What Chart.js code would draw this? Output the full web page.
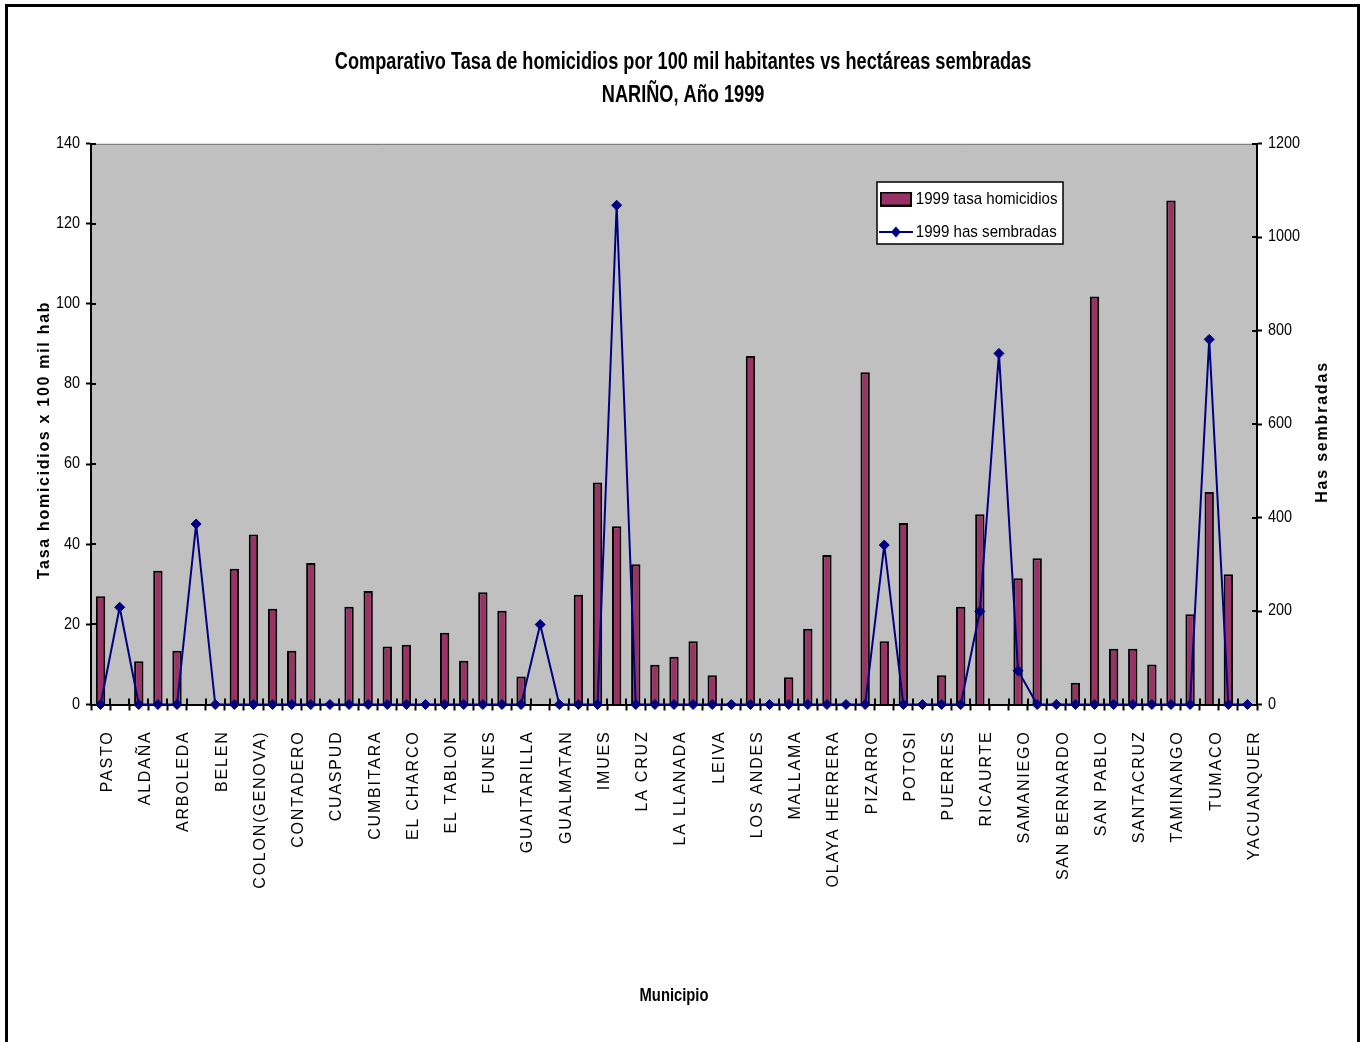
<!DOCTYPE html>
<html>
<head>
<meta charset="utf-8">
<title>Tasa de homicidios vs hectáreas sembradas - Nariño 1999</title>
<script src="https://cdn.jsdelivr.net/npm/chart.js@4.4.1/dist/chart.umd.min.js"></script>
<style>
  html, body { margin: 0; padding: 0; background: #fff; }
  #wrap { width: 1367px; height: 1042px; position: relative; }
  canvas { display: block; }
</style>
</head>
<body>
<div id="wrap"><canvas id="chart" width="1367" height="1042"></canvas></div>
<script>
// Municipios de Nariño (orden del eje X)
const municipios = [
  'PASTO', 'ALBAN', 'ALDAÑA', 'ANCUYA', 'ARBOLEDA', 'BARBACOAS', 'BELEN', 'BUESACO',
  'COLON(GENOVA)', 'CONSACA', 'CONTADERO', 'CORDOBA', 'CUASPUD', 'CUMBAL', 'CUMBITARA',
  'CHACHAGUI', 'EL CHARCO', 'EL ROSARIO', 'EL TABLON', 'EL TAMBO', 'FUNES', 'GUACHUCAL',
  'GUAITARILLA', 'ILES', 'GUALMATAN', 'IPIALES', 'IMUES', 'LA FLORIDA', 'LA CRUZ', 'LA TOLA',
  'LA LLANADA', 'LA UNION', 'LEIVA', 'LINARES', 'LOS ANDES', 'MAGUI', 'MALLAMA', 'MOSQUERA',
  'OLAYA HERRERA', 'OSPINA', 'PIZARRO', 'POLICARPA', 'POTOSI', 'PROVIDENCIA', 'PUERRES',
  'PUPIALES', 'RICAURTE', 'ROBERTO PAYAN', 'SAMANIEGO', 'SANDONA', 'SAN BERNARDO',
  'SAN LORENZO', 'SAN PABLO', 'SAN PEDRO DE CARTAGO', 'SANTACRUZ', 'SAPUYES', 'TAMINANGO',
  'TANGUA', 'TUMACO', 'TUQUERRES', 'YACUANQUER'
];

// 1999 tasa de homicidios por 100 mil habitantes (null = sin dato)
const tasaHomicidios = [
  27, null, 10.8, 33.4, 13.4, null, null, 33.9,
  42.4, 23.9, 13.4, 35.3, null, 24.4, 28.3,
  14.5, 14.9, null, 17.9, 10.9, 28, 23.4,
  7, null, null, 27.4, 55.4, 44.5, 35, 9.9,
  11.9, 15.8, 7.3, null, 87, null, 6.8, 18.9,
  37.3, null, 82.9, 15.8, 45.3, null, 7.3,
  24.4, 47.5, null, 31.5, 36.5, null,
  5.4, 101.8, 13.9, 13.9, 10, 125.8,
  22.5, 53, 32.5, null
];

// 1999 hectáreas sembradas
const hasSembradas = [
  0, 208, 0, 0, 0, 386, 0, 0,
  0, 0, 0, 0, 0, 0, 0,
  0, 0, 0, 0, 0, 0, 0,
  0, 171, 0, 0, 0, 1068, 0, 0,
  0, 0, 0, 0, 0, 0, 0, 0,
  0, 0, 0, 341, 0, 0, 0,
  0, 199, 751, 72, 0, 0,
  0, 0, 0, 0, 0, 0,
  0, 781, 0, 0
];

const tasaTicks = { min: 0, max: 140, step: 20 };
const hasTicks = { min: 0, max: 1200, step: 200 };

const SANS = '"Liberation Sans", Arial, sans-serif';
const PLUM = '#993366';
const NAVY = '#000080';
// horizontal squeeze giving the narrow typeface look
const NARROW_TITLE = 0.79;
const NARROW_TICKS = 0.9;
const NARROW_LEGEND = 0.887;
const NARROW_XTITLE = 0.82;

// Legend symbols: a filled bar and a line with a diamond marker
function barSymbol() {
  const c = document.createElement('canvas');
  c.width = 36; c.height = 15;
  const g = c.getContext('2d');
  g.fillStyle = PLUM; g.fillRect(1, 1, 34, 13);
  g.strokeStyle = '#000'; g.lineWidth = 2; g.strokeRect(1, 1, 34, 13);
  return c;
}
function lineSymbol() {
  const c = document.createElement('canvas');
  c.width = 38; c.height = 12;
  const g = c.getContext('2d');
  g.strokeStyle = NAVY; g.lineWidth = 2;
  g.beginPath(); g.moveTo(0, 6); g.lineTo(38, 6); g.stroke();
  g.fillStyle = NAVY;
  g.beginPath(); g.moveTo(19, 0.5); g.lineTo(24.5, 6); g.lineTo(19, 11.5); g.lineTo(13.5, 6); g.closePath(); g.fill();
  return c;
}

// Rotated, letter-spaced axis title drawn at the scale's position
function spacedAxisTitle(scale, cx, cy, spacing) {
  const o = scale.options.title;
  const f = Chart.helpers.toFont(o.font);
  const ctx = scale.ctx;
  ctx.save();
  ctx.translate(cx, cy);
  ctx.rotate(-Math.PI / 2);
  ctx.font = f.string;
  ctx.fillStyle = o.color;
  ctx.letterSpacing = spacing + 'px';
  ctx.textAlign = 'center';
  ctx.textBaseline = 'middle';
  ctx.fillText(o.text, 0, 0);
  ctx.restore();
}

// Run a drawing routine with a horizontal squeeze about x = cx
function squeezed(ctx, cx, k, fn) {
  ctx.save();
  ctx.translate(cx, 0);
  ctx.scale(k, 1);
  ctx.translate(-cx, 0);
  fn();
  ctx.restore();
}

const legendBox = { x: 877, y: 182, w: 186, h: 62 };

const axisTextPlugin = {
  id: 'axisText',
  afterLayout(chart) {
    const { x, y, y1 } = chart.scales;
    const proto = Object.getPrototypeOf(x);
    x.drawLabels = function (area) {
      const c = this.ctx;
      c.save();
      c.letterSpacing = '1.8px';
      proto.drawLabels.call(this, area);
      c.restore();
    };
    x.drawTitle = function () {
      squeezed(this.ctx, (this.left + this.right) / 2, NARROW_XTITLE, () => proto.drawTitle.call(this));
    };
    const yProto = Object.getPrototypeOf(y);
    y.drawLabels = function (area) {
      const o = this.options;
      const anchor = this.right - o.grid.tickLength - o.ticks.padding;
      squeezed(this.ctx, anchor, NARROW_TICKS, () => yProto.drawLabels.call(this, area));
    };
    y1.drawLabels = function (area) {
      const o = this.options;
      const anchor = this.left + o.grid.tickLength + o.ticks.padding;
      squeezed(this.ctx, anchor, NARROW_TICKS, () => yProto.drawLabels.call(this, area));
    };
    y.drawTitle = function () {
      spacedAxisTitle(this, this.left + 45, (this.top + this.bottom) / 2 + 16, 1.7);
    };
    y1.drawTitle = function () {
      spacedAxisTitle(this, this.left + 66, (this.top + this.bottom) / 2 + 8, 1.8);
    };

    const t = chart.titleBlock;
    if (t && !t._squeezed) {
      const drawTitleBlock = t.draw.bind(t);
      t.draw = function () {
        squeezed(this.ctx, (this.left + this.right) / 2 - 2, NARROW_TITLE, drawTitleBlock);
      };
      t._squeezed = true;
    }
    const lg = chart.legend;
    if (lg && !lg._squeezed) {
      const drawLegend = lg.draw.bind(lg);
      lg.draw = function () {
        squeezed(this.ctx, legendBox.x, NARROW_LEGEND, drawLegend);
      };
      lg._squeezed = true;
    }
  }
};

// Page frame, grey plot background and the white legend panel
const backdropPlugin = {
  id: 'backdrop',
  beforeDraw(chart) {
    const { ctx, chartArea: a } = chart;
    ctx.save();
    ctx.fillStyle = '#fff';
    ctx.fillRect(0, 0, chart.width, chart.height);
    ctx.fillStyle = '#C0C0C0';
    ctx.fillRect(a.left, a.top, a.right - a.left, a.bottom - a.top);
    ctx.strokeStyle = '#808080';
    ctx.lineWidth = 1;
    ctx.beginPath();
    ctx.moveTo(a.left, Math.round(a.top) + 0.5);
    ctx.lineTo(a.right, Math.round(a.top) + 0.5);
    ctx.stroke();
    ctx.fillStyle = '#fff';
    ctx.fillRect(legendBox.x, legendBox.y, legendBox.w, legendBox.h);
    ctx.strokeStyle = '#000';
    ctx.lineWidth = 1.5;
    ctx.strokeRect(legendBox.x, legendBox.y, legendBox.w, legendBox.h);
    ctx.restore();

    // legend content sits inside the panel
    const lg = chart.legend;
    lg.left = legendBox.x - 8.7;
    lg.top = legendBox.y - 7.5;
    lg.width = 300;
    lg.height = 120;
    lg.right = lg.left + lg.width;
    lg.bottom = lg.top + lg.height;
  },
  afterDraw(chart) {
    const ctx = chart.ctx;
    ctx.save();
    ctx.strokeStyle = '#000';
    ctx.lineWidth = 3;
    ctx.strokeRect(6.5, 5.5, 1352, chart.height + 20);
    ctx.restore();
  }
};

// Tick marks crossing to the inside of each axis
const innerTicksPlugin = {
  id: 'innerTicks',
  beforeDatasetsDraw(chart) {
    const { ctx, chartArea: a, scales: { x, y, y1 } } = chart;
    ctx.save();
    ctx.strokeStyle = '#000';
    ctx.lineWidth = 2;
    ctx.beginPath();
    y.ticks.forEach(t => {
      const p = Math.round(y.getPixelForValue(t.value));
      ctx.moveTo(a.left, p); ctx.lineTo(a.left + 5, p);
    });
    y1.ticks.forEach(t => {
      const p = Math.round(y1.getPixelForValue(t.value));
      ctx.moveTo(a.right - 5, p); ctx.lineTo(a.right, p);
    });
    for (let k = 0; k <= municipios.length; k++) {
      const p = Math.round(x.getPixelForValue(k - 0.5));
      ctx.moveTo(p, a.bottom - 6); ctx.lineTo(p, a.bottom);
    }
    ctx.stroke();
    ctx.restore();
  }
};

const ctx = document.getElementById('chart').getContext('2d');
new Chart(ctx, {
  type: 'bar',
  data: {
    labels: municipios,
    datasets: [
      {
        type: 'bar',
        label: '1999 tasa homicidios',
        data: tasaHomicidios,
        yAxisID: 'y',
        backgroundColor: PLUM,
        borderColor: '#000',
        borderWidth: 2,
        barPercentage: 0.49,
        categoryPercentage: 1,
        order: 1
      },
      {
        type: 'line',
        label: '1999 has sembradas',
        data: hasSembradas,
        yAxisID: 'y1',
        borderColor: NAVY,
        backgroundColor: NAVY,
        borderWidth: 2,
        borderJoinStyle: 'round',
        tension: 0,
        pointStyle: 'rectRot',
        pointRadius: 5,
        pointBackgroundColor: NAVY,
        pointBorderColor: NAVY,
        pointBorderWidth: 1,
        clip: false,
        order: 0
      }
    ]
  },
  options: {
    responsive: false,
    animation: false,
    devicePixelRatio: 1,
    layout: { padding: 0 },
    plugins: {
      title: {
        display: true,
        text: ['Comparativo Tasa de homicidios por 100 mil habitantes vs hectáreas sembradas', 'NARIÑO, Año 1999'],
        color: '#000',
        font: { family: SANS, size: 23, weight: 'bold', lineHeight: 33 / 23 },
        padding: { top: 46.5, bottom: 31 }
      },
      legend: {
        display: true,
        position: 'chartArea',
        align: 'start',
        labels: {
          usePointStyle: true,
          pointStyleWidth: 28,
          padding: 16,
          color: '#000',
          font: { family: SANS, size: 17 },
          generateLabels: () => [
            { text: '1999 tasa homicidios', pointStyle: barSymbol(), fillStyle: PLUM, strokeStyle: '#000', lineWidth: 0, hidden: false, datasetIndex: 0 },
            { text: '1999 has sembradas', pointStyle: lineSymbol(), fillStyle: NAVY, strokeStyle: NAVY, lineWidth: 0, hidden: false, datasetIndex: 1 }
          ]
        }
      },
      tooltip: { enabled: false }
    },
    scales: {
      x: {
        type: 'category',
        offset: true,
        grid: { display: true, offset: true, drawOnChartArea: false, drawTicks: true, tickLength: 6, tickWidth: 2, color: '#000' },
        border: { display: true, color: '#000', width: 2 },
        ticks: {
          autoSkip: false,
          minRotation: 90,
          maxRotation: 90,
          padding: 20,
          labelOffset: 7,
          color: '#000',
          font: { family: SANS, size: 16 },
          callback: (v, i) => (i % 2 === 0 ? municipios[i] : '')
        },
        title: {
          display: true,
          text: 'Municipio',
          color: '#000',
          font: { family: SANS, size: 18, weight: 'bold' },
          padding: { top: 0, bottom: 35 }
        },
        afterFit: s => { s.height = 337.5; }
      },
      y: {
        position: 'left',
        min: tasaTicks.min,
        max: tasaTicks.max,
        ticks: { stepSize: tasaTicks.step, padding: 6, color: '#000', font: { family: SANS, size: 16 }, callback: v => String(v) },
        grid: { drawOnChartArea: false, drawTicks: true, tickLength: 5, tickWidth: 2, color: '#000' },
        border: { display: true, color: '#000', width: 2 },
        title: { display: true, text: 'Tasa homicidios x 100 mil hab', color: '#000', font: { family: SANS, size: 16, weight: 'bold' } },
        afterFit: s => { s.width = 91; }
      },
      y1: {
        position: 'right',
        min: hasTicks.min,
        max: hasTicks.max,
        ticks: { stepSize: hasTicks.step, padding: 6, color: '#000', font: { family: SANS, size: 16 }, callback: v => String(v) },
        grid: { drawOnChartArea: false, drawTicks: true, tickLength: 5, tickWidth: 2, color: '#000' },
        border: { display: true, color: '#000', width: 2 },
        title: { display: true, text: 'Has sembradas', color: '#000', font: { family: SANS, size: 16, weight: 'bold' } },
        afterFit: s => { s.width = 110; }
      }
    }
  },
  plugins: [backdropPlugin, innerTicksPlugin, axisTextPlugin]
});
</script>
</body>
</html>
